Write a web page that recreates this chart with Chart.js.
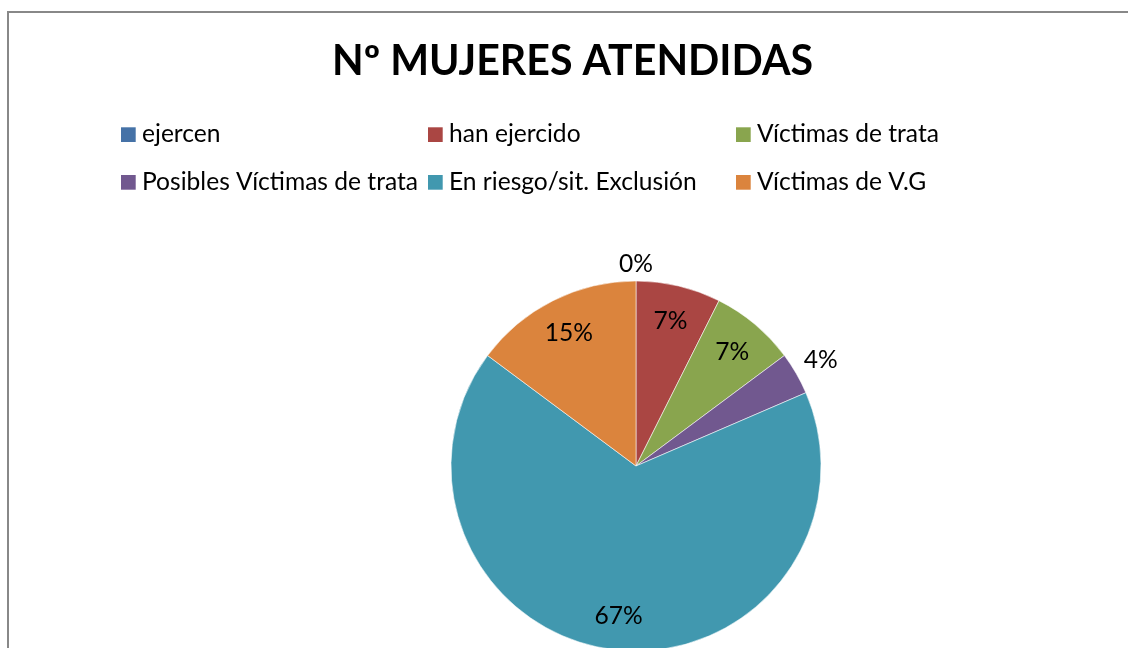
<!DOCTYPE html>
<html>
<head>
<meta charset="utf-8">
<script src="https://cdn.jsdelivr.net/npm/chart.js@4.4.0/dist/chart.umd.min.js"></script>
<style>
  html, body { margin: 0; padding: 0; width: 1128px; height: 648px; overflow: hidden; background: #fff; }
  #frame { position: absolute; left: 7px; top: 11px; width: 1400px; height: 1000px;
           border-left: 2px solid #888888; border-top: 2px solid #888888; box-sizing: border-box; }
  #c { position: absolute; left: 0; top: 0; }
</style>
</head>
<body>
<div id="frame"></div>
<canvas id="c" width="1128" height="940"></canvas>
<script>
// ---- data ----
const chartTitle = 'Nº MUJERES ATENDIDAS';
const categories = ['ejercen', 'han ejercido', 'Víctimas de trata',
                    'Posibles Víctimas de trata', 'En riesgo/sit. Exclusión', 'Víctimas de V.G'];
const values = [0, 2, 2, 1, 18, 4];
const colors = ['#4572A7', '#AA4643', '#89A54E', '#71588F', '#4198AF', '#DB843D'];

// ---- layout / style ----
const FONT = 'Lato, "Open Sans", sans-serif';
const legendCols = [121, 428, 736];
const legendBaselines = [142.3, 190];
const legendBox = 14.7;

function fitSize(ctx, text, weight, target) {
  ctx.font = weight + ' 100px ' + FONT;
  return 100 * target / ctx.measureText(text).width;
}

const textPlugin = {
  id: 'textPlugin',
  afterDraw(chart) {
    const ctx = chart.ctx;
    ctx.save();
    // title
    const tSize = fitSize(ctx, chartTitle, 'bold', 481);
    ctx.font = 'bold ' + tSize + 'px ' + FONT;
    ctx.fillStyle = '#000';
    ctx.textAlign = 'center';
    ctx.textBaseline = 'alphabetic';
    ctx.fillText(chartTitle, 572.5, 75);

    // legend
    const lSize = fitSize(ctx, 'Posibles Víctimas de trata', 'normal', 276);
    ctx.font = lSize + 'px ' + FONT;
    ctx.textAlign = 'left';
    categories.forEach((name, i) => {
      const col = i % 3, row = Math.floor(i / 3);
      const x = legendCols[col], base = legendBaselines[row];
      ctx.fillStyle = colors[i];
      ctx.fillRect(x, base - 15, legendBox, legendBox);
      ctx.fillStyle = '#000';
      ctx.fillText(name, x + 21, base);
    });

    // data labels
    const meta = chart.getDatasetMeta(0);
    const total = values.reduce((a, b) => a + b, 0);
    ctx.font = lSize + 'px ' + FONT;
    ctx.textAlign = 'center';
    const capH = ctx.measureText('0').actualBoundingBoxAscent;
    meta.data.forEach((arc, i) => {
      const p = arc.getProps(['x', 'y', 'startAngle', 'endAngle', 'outerRadius'], true);
      const mid = (p.startAngle + p.endAngle) / 2;
      const pct = Math.round(values[i] / total * 100);
      const txt = pct + '%';
      const w = ctx.measureText(txt).width;
      const dx = Math.cos(mid), dy = Math.sin(mid);
      let r;
      if (pct < 5) {
        const ext = Math.abs(dx) * w / 2 + Math.abs(dy) * capH / 2;
        r = p.outerRadius + 9 + ext;
      } else {
        r = p.outerRadius * 0.81;
      }
      const lx = p.x + dx * r, ly = p.y + dy * r;
      ctx.fillStyle = '#000';
      ctx.fillText(txt, lx, ly + capH / 2);
    });
    ctx.restore();
  }
};

new Chart(document.getElementById('c'), {
  type: 'pie',
  data: {
    labels: categories,
    datasets: [{
      data: values,
      backgroundColor: colors,
      borderColor: 'rgba(255,255,255,0.55)',
      borderWidth: 1,
      radius: 185
    }]
  },
  options: {
    responsive: false,
    animation: false,
    devicePixelRatio: 1,
    layout: { padding: { left: 436, right: 292, top: 266, bottom: 274 } },
    plugins: {
      legend: { display: false },
      title: { display: false },
      tooltip: { enabled: false }
    }
  },
  plugins: [textPlugin]
});
</script>
</body>
</html>
